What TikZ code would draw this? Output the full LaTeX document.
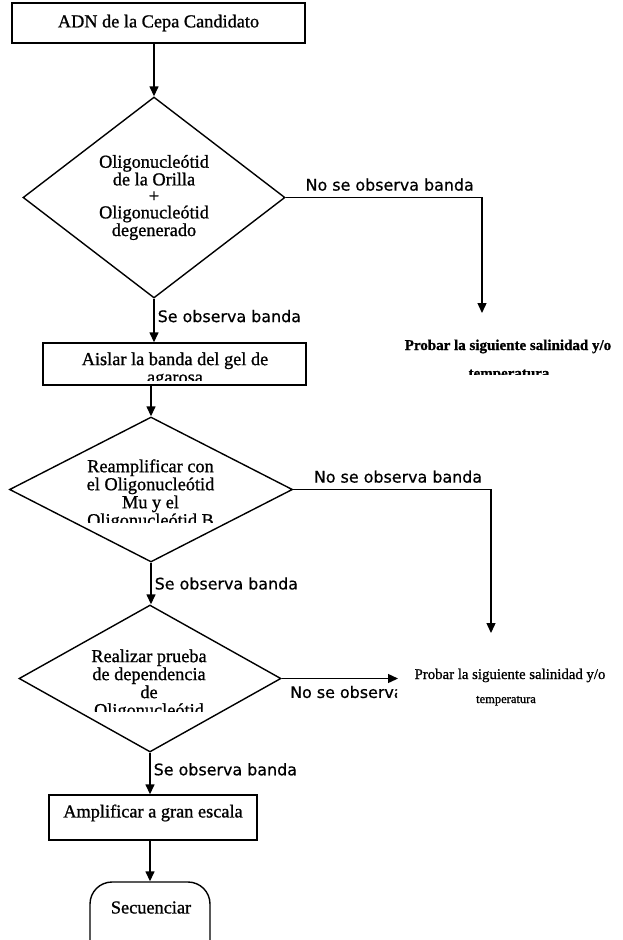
\documentclass[tikz,border=0pt]{standalone}
\usepackage{fontspec}
\setmainfont{Liberation Serif}[FakeBold=1]
\newfontfamily\lblfont{DejaVu Sans}[FakeBold=0.6]
\usepackage{tikz}
\usetikzlibrary{shapes,arrows,arrows.meta,positioning}
\tikzstyle{box} = [rectangle, draw, line width=1.4pt, inner sep=0pt]
\tikzstyle{decision} = [diamond, draw, line width=1.4pt, inner sep=0pt]
\tikzstyle{term} = [rectangle, rounded corners=22pt, draw, line width=1.4pt]
\tikzstyle{txt} = [align=center, inner sep=0pt, font=\fontsize{18.3}{18}\selectfont]
\tikzstyle{lbl} = [inner sep=3pt, font=\lblfont\fontsize{15.9}{18}\selectfont]
\tikzstyle{note} = [inner sep=0pt, anchor=base]
\tikzstyle{line} = [draw, line width=1.4pt, -{Triangle[length=10pt,width=9pt]}]

\begin{document}
\begin{tikzpicture}[x=1pt, y=-1pt]
			\useasboundingbox (0,0) rectangle (622,940);
			\clip (0,0) rectangle (622,940);

			\node [box, txt, minimum width=293pt, minimum height=40pt] (adn) at (158.5,23) {ADN de la Cepa Candidato};
			\node [decision, txt, font=\fontsize{18.3}{16.5}\selectfont, minimum width=262pt, minimum height=201pt] (d1) at (154,197.5) {Oligonucleótid\\de la Orilla\\+\\Oligonucleótid\\degenerado};
			\node [box, minimum width=263pt, minimum height=42pt] (aislar) at (174.5,364) {};
			\node [decision, minimum width=283pt, minimum height=145pt] (d2) at (151,489.5) {};
			\node [decision, minimum width=262pt, minimum height=147pt] (d3) at (150,678.5) {};
			\node [box, txt, text depth=13pt, minimum width=208pt, minimum height=45pt] (ampl) at (153,817.5) {Amplificar a gran escala};
			\node [term, minimum width=120pt, minimum height=80pt] (sec) at (150,922) {};
			\node [txt] (sectxt) at (151,907.5) {Secuenciar};

			% text cut by its text box
			\begin{scope}
				\clip (0,0) rectangle (622,380);
				\node [txt] (aislartxt) at (175,369.75) {Aislar la banda del gel de\\agarosa};
			\end{scope}
			\begin{scope}
				\clip (0,0) rectangle (622,522);
				\node [txt] (d2txt) at (150.5,494.75) {Reamplificar con\\el Oligonucleótid\\Mu y el\\Oligonucleótid B};
			\end{scope}
			\begin{scope}
				\clip (0,0) rectangle (622,711);
				\node [txt] (d3txt) at (149,684.75) {Realizar prueba\\de dependencia\\de\\Oligonucleótid};
			\end{scope}

			% right column
			\coordinate (ca) at (482,313);
			\coordinate (cb) at (491,633);
			\coordinate (cc) at (398,678.5);
			\node [note, font=\bfseries\fontsize{15}{18}\selectfont] (probarA) at (508,350) {Probar la siguiente salinidad y/o};
			\begin{scope}
				\clip (0,0) rectangle (622,374);
				\node [note, font=\bfseries\fontsize{15}{18}\selectfont] (tempA) at (509,378) {temperatura};
			\end{scope}
			\node [note, font=\fontsize{14.8}{18}\selectfont] (probarB) at (510,679) {Probar la siguiente salinidad y/o};
			\node [note, font=\fontsize{12.5}{18}\selectfont] (tempB) at (506,703) {temperatura};
			\begin{scope}
				\clip (0,0) rectangle (397,940);
				\node [lbl, anchor=west, inner sep=0pt] (noC) at (290,692) {No se observa};
			\end{scope}

			\path [line] (d1.north |- adn.south) -- (d1.north);
			\path [line] (d1.south) -- node [lbl, right, pos=0.4] {Se observa banda} (d1.south |- aislar.north);
			\path [line] (d2.north |- aislar.south) -- (d2.north);
			\path [line] (d2.south) -- node [lbl, right] {Se observa banda} (d2.south |- d3.north);
			\path [line] (d3.south) -- node [lbl, right, pos=0.4] {Se observa banda} (d3.south |- ampl.north);
			\path [line] (sec.north |- ampl.south) -- (sec.north);
			\path [line] (d1.east) -| node [lbl, above=3pt, pos=0.265] {No se observa banda} (ca);
			\path [line] (d2.east) -| node [lbl, above=3pt, pos=0.265] {No se observa banda} (cb);
			\path [line] (d3.east) -- (cc);
		\end{tikzpicture}
\end{document}
